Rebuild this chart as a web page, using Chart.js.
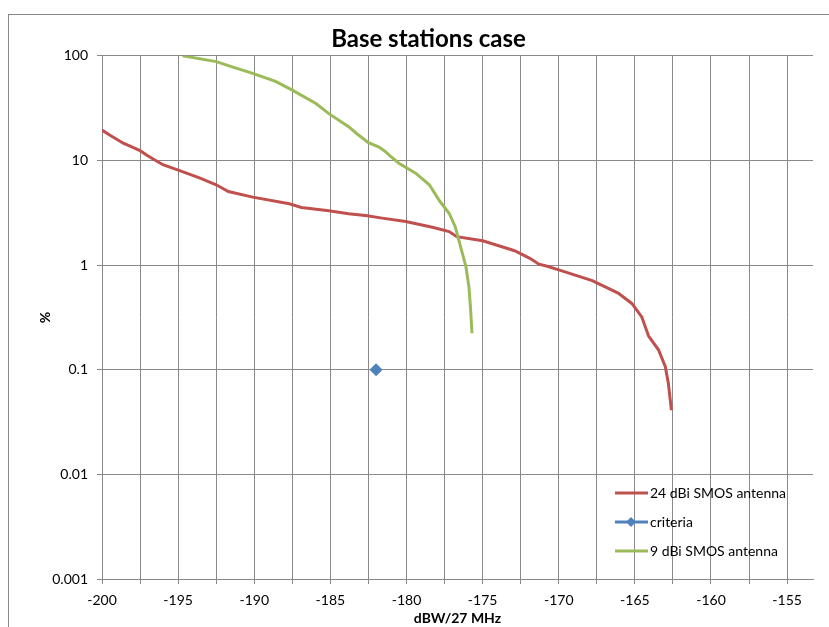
<!DOCTYPE html>
<html>
<head>
<meta charset="utf-8">
<script src="https://cdn.jsdelivr.net/npm/chart.js@4.4.1/dist/chart.umd.min.js"></script>
<style>
  html, body { margin: 0; padding: 0; background: #fff; }
  #wrap { width: 829px; height: 627px; }
</style>
</head>
<body>
<div id="wrap"><canvas id="chart" width="829" height="627"></canvas></div>
<script>
// 24 dBi SMOS antenna
const redX = [-200, -199.5, -198.6, -197.5, -197.0, -196.0, -194.9, -193.6, -192.5, -191.7, -190.1, -187.7, -186.9, -185.1, -183.8, -182.7, -181.6, -180.05, -178.3, -177.2, -176.7, -175.0, -173.1, -172.8, -171.9, -171.3, -170.7, -170.0, -167.8, -166.1, -165.2, -164.55, -164.1, -163.45, -163.0, -162.8, -162.6];
const redY = [19.5, 17.5, 14.6, 12.4, 11.1, 9.1, 8.0, 6.8, 5.85, 5.05, 4.46, 3.85, 3.55, 3.3, 3.1, 2.97, 2.81, 2.61, 2.3, 2.09, 1.87, 1.71, 1.40, 1.35, 1.16, 1.02, 0.97, 0.90, 0.71, 0.54, 0.43, 0.32, 0.21, 0.155, 0.107, 0.074, 0.041];

// criteria
const critX = [-182];
const critY = [0.1];

// 9 dBi SMOS antenna
const greenX = [-194.7, -192.5, -191.4, -190.1, -188.6, -187.5, -185.95, -185.1, -183.8, -183.3, -182.5, -181.8, -181.4, -181.1, -180.5, -179.4, -178.5, -177.8, -177.2, -176.8, -176.45, -176.1, -175.9, -175.8, -175.7];
const greenY = [100, 88, 78, 68, 57, 47, 35, 28, 21, 18.2, 14.8, 13.4, 12.2, 11.1, 9.4, 7.55, 5.85, 4.05, 3.13, 2.33, 1.5, 0.97, 0.62, 0.40, 0.223];

const yTicks = [0.001, 0.01, 0.1, 1, 10, 100];
const xMin = -200, xMax = -153.3, xLast = -155;

function toPoints(xs, ys) {
    return xs.map((x, i) => ({ x: x, y: ys[i] }));
}

const gridColor = '#898989';

const framePlugin = {
    id: 'frame',
    beforeDraw: function (chart) {
        const ctx = chart.ctx;
        ctx.save();
        ctx.fillStyle = '#fff';
        ctx.fillRect(0, 0, chart.width, chart.height);
        ctx.strokeStyle = gridColor;
        ctx.lineWidth = 1;
        ctx.strokeRect(8.5, 14.5, 900, 700);
        ctx.restore();
    }
};

const legendPlugin = {
    id: 'insideLegend',
    afterDraw: function (chart) {
        const ctx = chart.ctx;
        const x0 = 615, x1 = 648;
        let y = 493;
        ctx.save();
        ctx.font = "14px Lato";
        ctx.textBaseline = 'middle';
        chart.data.datasets.forEach(function (ds) {
            ctx.strokeStyle = ds.borderColor;
            ctx.lineWidth = 3;
            ctx.beginPath();
            ctx.moveTo(x0, y);
            ctx.lineTo(x1, y);
            ctx.stroke();
            if (ds.pointRadius > 0) {
                const r = 5;
                ctx.fillStyle = ds.backgroundColor;
                ctx.beginPath();
                ctx.moveTo(631 - r, y);
                ctx.lineTo(631, y - r);
                ctx.lineTo(631 + r, y);
                ctx.lineTo(631, y + r);
                ctx.closePath();
                ctx.fill();
            }
            ctx.fillStyle = '#000';
            ctx.fillText(ds.label, x1 + 2, y);
            y += 29;
        });
        ctx.restore();
    }
};

const ctx = document.getElementById('chart').getContext('2d');

new Chart(ctx, {
    type: 'scatter',
    data: {
        datasets: [{
            label: '24 dBi SMOS antenna',
            data: toPoints(redX, redY),
            showLine: true,
            borderColor: '#C0504D',
            backgroundColor: '#C0504D',
            borderWidth: 3,
            pointRadius: 0,
            order: 2
        }, {
            label: 'criteria',
            data: toPoints(critX, critY),
            showLine: true,
            borderColor: '#4F81BD',
            backgroundColor: '#4F81BD',
            borderWidth: 3,
            pointStyle: 'rectRot',
            pointRadius: 6.5,
            pointBorderWidth: 0,
            order: 0
        }, {
            label: '9 dBi SMOS antenna',
            data: toPoints(greenX, greenY),
            showLine: true,
            borderColor: '#9BBB59',
            backgroundColor: '#9BBB59',
            borderWidth: 3,
            pointRadius: 0,
            order: 1
        }]
    },
    options: {
        responsive: false,
        animation: false,
        layout: {
            padding: { left: 44, right: 16, top: 14, bottom: 0 }
        },
        plugins: {
            legend: { display: false },
            tooltip: { enabled: false },
            title: {
                display: true,
                text: 'Base stations case',
                color: '#000',
                font: { family: 'Lato', size: 24, weight: 'bold' },
                padding: { top: 11, bottom: 2 }
            }
        },
        scales: {
            x: {
                type: 'linear',
                min: xMin,
                max: xMax,
                afterBuildTicks: function (scale) {
                    scale.ticks = scale.ticks.filter(t => t.value <= xLast + 1e-6);
                },
                afterFit: function (scale) {
                    scale.height = 48;
                },
                ticks: {
                    stepSize: 2.5,
                    includeBounds: false,
                    color: '#000',
                    padding: 8,
                    maxRotation: 0,
                    autoSkip: false,
                    font: { family: 'Lato', size: 14 },
                    callback: function (value) {
                        return Math.abs(value % 5) < 1e-6 ? String(value) : '';
                    }
                },
                grid: { color: gridColor, tickColor: gridColor, tickLength: 5 },
                border: { color: gridColor },
                title: {
                    display: true,
                    text: 'dBW/27 MHz',
                    color: '#000',
                    font: { family: 'Lato', size: 14, weight: 'bold' },
                    padding: { top: 0, bottom: 0 }
                }
            },
            y: {
                type: 'logarithmic',
                min: 0.001,
                max: 100,
                afterBuildTicks: function (scale) {
                    scale.ticks = yTicks.map(v => ({ value: v }));
                },
                afterFit: function (scale) {
                    scale.width = 58;
                },
                ticks: {
                    color: '#000',
                    padding: 9,
                    font: { family: 'Lato', size: 14 },
                    callback: function (value) {
                        return String(value);
                    }
                },
                grid: { color: gridColor, tickColor: gridColor, tickLength: 5 },
                border: { color: gridColor },
                title: {
                    display: true,
                    text: '%',
                    color: '#000',
                    font: { family: 'Lato', size: 14, weight: 'bold' },
                    padding: { top: -7, bottom: 0 }
                }
            }
        }
    },
    plugins: [framePlugin, legendPlugin]
});
</script>
</body>
</html>
